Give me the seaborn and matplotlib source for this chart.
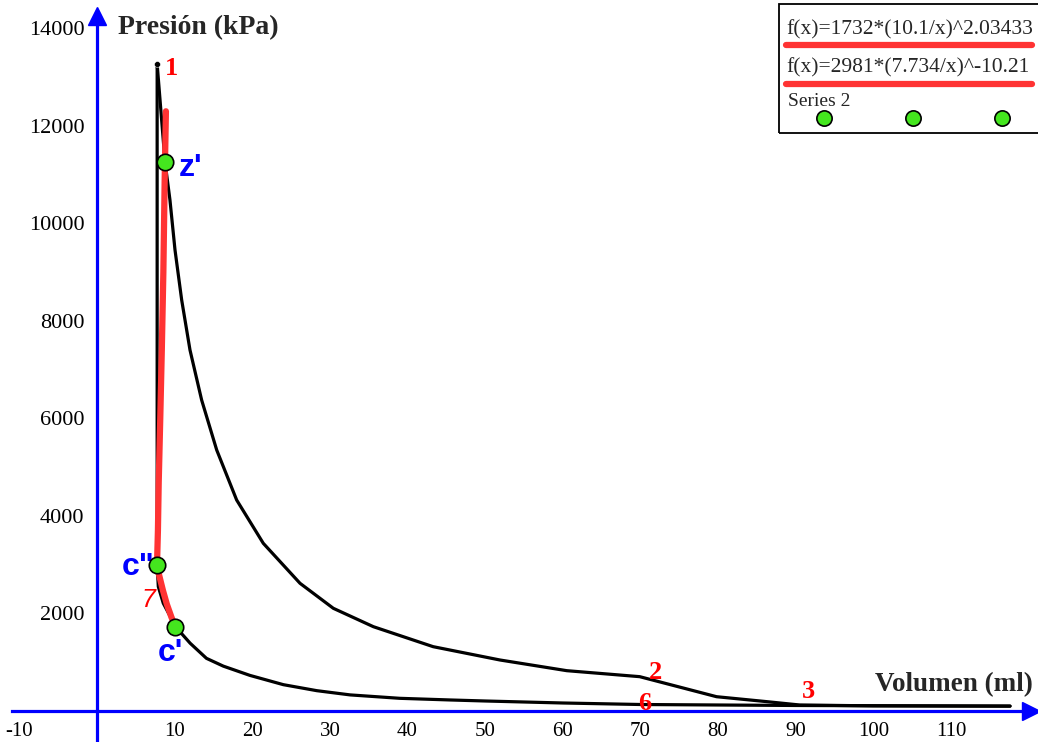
import matplotlib.pyplot as plt
from matplotlib.lines import Line2D
from matplotlib.patches import Rectangle
import seaborn as sns

# Curva de expansion (1 -> z' -> 2 -> 3 -> final)
volumen_expansion = [7.75, 8.76, 9.40, 10.05, 10.91, 11.98, 13.48, 15.42, 17.99, 21.42,
                     26.15, 30.44, 35.6, 43.3, 51.9, 60.5, 69.9, 79.8, 86.3,
                     90.5, 100.0, 117.6]
presion_expansion = [13270, 11265, 10480, 9455, 8429, 7404, 6378, 5353, 4327, 3439,
                     2619, 2106, 1729, 1319, 1046, 827, 704, 293, 191,
                     123, 105, 100]

# Curva de compresion (1 -> c'' -> 7 -> c' -> 6 -> final)
volumen_compresion = [7.75, 7.75, 7.9, 8.54, 10.18, 12.0, 14.1, 16.27, 19.7, 24.0, 28.3,
                      32.6, 39.0, 45.5, 50.0, 60.0, 70.0, 90.0, 117.6]
presion_compresion = [13270, 2994, 2550, 2209, 1716, 1390, 1080, 920, 730, 540, 417,
                      330, 260, 226, 205, 164, 133, 113, 100]

# Curvas ajustadas (rojo)
volumen_ajuste = [10.1, 9.6, 9.0, 8.5, 8.0, 7.73, 7.85, 7.95, 8.15, 8.35, 8.55, 8.72, 8.88]
presion_ajuste = [1732, 1920, 2190, 2470, 2790, 2981, 3700, 4676, 6000, 7404, 9000, 10900, 12300]

# Puntos verdes (Series 2)
puntos_v = [8.76, 7.77, 10.1]
puntos_p = [11265, 2994, 1716]

leyenda_1 = "f(x)=1732*(10.1/x)^2.03433"
leyenda_2 = "f(x)=2981*(7.734/x)^-10.21"
leyenda_3 = "Series 2"

x_ticks = [-10, 10, 20, 30, 40, 50, 60, 70, 80, 90, 100, 110]
y_ticks = [2000, 4000, 6000, 8000, 10000, 12000, 14000]

AZUL = '#0000ff'
ROJO = '#ff3333'
VERDE = '#44e61e'

sns.set_style("white")
plt.rcParams['font.family'] = ['Liberation Serif', 'DejaVu Serif']
plt.rcParams['axes.unicode_minus'] = False

fig = plt.figure(figsize=(10.38, 7.42), dpi=100)
ax = fig.add_axes([0, 0, 1, 1])

sns.lineplot(x=volumen_expansion, y=presion_expansion, sort=False, estimator=None,
             color='black', lw=2.3, ax=ax)
sns.lineplot(x=volumen_compresion, y=presion_compresion, sort=False, estimator=None,
             color='black', lw=2.3, ax=ax)
sns.lineplot(x=volumen_ajuste, y=presion_ajuste, sort=False, estimator=None,
             color=ROJO, lw=4.5, ax=ax, solid_capstyle='round')
sns.scatterplot(x=[volumen_expansion[0]], y=[presion_expansion[0]], color='black',
                s=18, ax=ax, zorder=5)
sns.scatterplot(x=puntos_v, y=puntos_p, color=VERDE, edgecolor='black', linewidth=1.2,
                s=140, ax=ax, zorder=6)

ax.set_xlim(-12.49, 121.2)
ax.set_ylim(-636, 14582)

# ejes en el origen
for lado in ['top', 'right']:
    ax.spines[lado].set_visible(False)
ax.spines['left'].set_position(('data', 0))
ax.spines['bottom'].set_position(('data', 0))
ax.spines['left'].set_bounds(-636, 14250)
ax.spines['bottom'].set_bounds(-11.0, 120.0)
for lado in ['left', 'bottom']:
    ax.spines[lado].set_color(AZUL)
    ax.spines[lado].set_linewidth(2.3)
ax.plot([120.3], [0], marker='>', ms=13, color=AZUL, clip_on=False)
ax.plot([0], [14250], marker='^', ms=13, color=AZUL, clip_on=False)

ax.set_xticks(x_ticks)
ax.set_yticks(y_ticks)
ax.tick_params(direction='inout', length=16, width=1.5, color=AZUL,
               labelsize=16, labelcolor='black', pad=1)
ax.tick_params(axis='x', labelsize=15, pad=0)
ax.set_xlabel('')
ax.set_ylabel('')

ax.text(2.7, 14007, 'Presión (kPa)', fontsize=20, fontweight='bold', va='center', ha='left')
ax.text(120.6, 533, 'Volumen (ml)', fontsize=19.5, fontweight='bold', va='center', ha='right')

# etiquetas de los puntos
rojo_serif = dict(color='red', fontsize=19, fontweight='bold', ha='center', va='center')
ax.text(9.66, 13187, '1', **rojo_serif)
ax.text(71.9, 780, '2', **rojo_serif)
ax.text(70.6, 144, '6', **rojo_serif)
ax.text(91.6, 390, '3', **rojo_serif)
ax.text(6.6, 2276, '7', color='red', fontsize=18, style='italic', family='Liberation Sans',
        ha='center', va='center')
azul_sans = dict(color=AZUL, fontsize=23, fontweight='heavy', family='Liberation Sans',
                 ha='center', va='center')
ax.text(12.0, 11136, "z'", **azul_sans)
ax.text(5.3, 2953, 'c"', **azul_sans)
ax.text(9.4, 1190, "c'", **azul_sans)

# leyenda dibujada a mano
W, H = 1038, 742
fig.add_artist(Rectangle((779 / W, 1 - 133 / H), 270 / W, 129 / H, transform=fig.transFigure,
                         fill=False, ec='black', lw=1.3))
fig.text(786 / W, 1 - 30 / H, leyenda_1, fontsize=15.5, va='center', ha='left')
fig.text(786 / W, 1 - 68 / H, leyenda_2, fontsize=15.5, va='center', ha='left')
fig.text(788 / W, 1 - 101 / H, leyenda_3, fontsize=14, va='center', ha='left')
for yy in [45, 84]:
    fig.add_artist(Line2D([786 / W, 1032 / W], [1 - yy / H] * 2, transform=fig.transFigure,
                          color=ROJO, lw=4.5, solid_capstyle='round'))
fig.add_artist(Line2D([824 / W, 913 / W, 1002 / W], [1 - 118 / H] * 3, transform=fig.transFigure,
                      ls='none', marker='o', ms=11, mfc=VERDE, mec='black', mew=1.2))

fig.savefig('out.png', dpi=100)
